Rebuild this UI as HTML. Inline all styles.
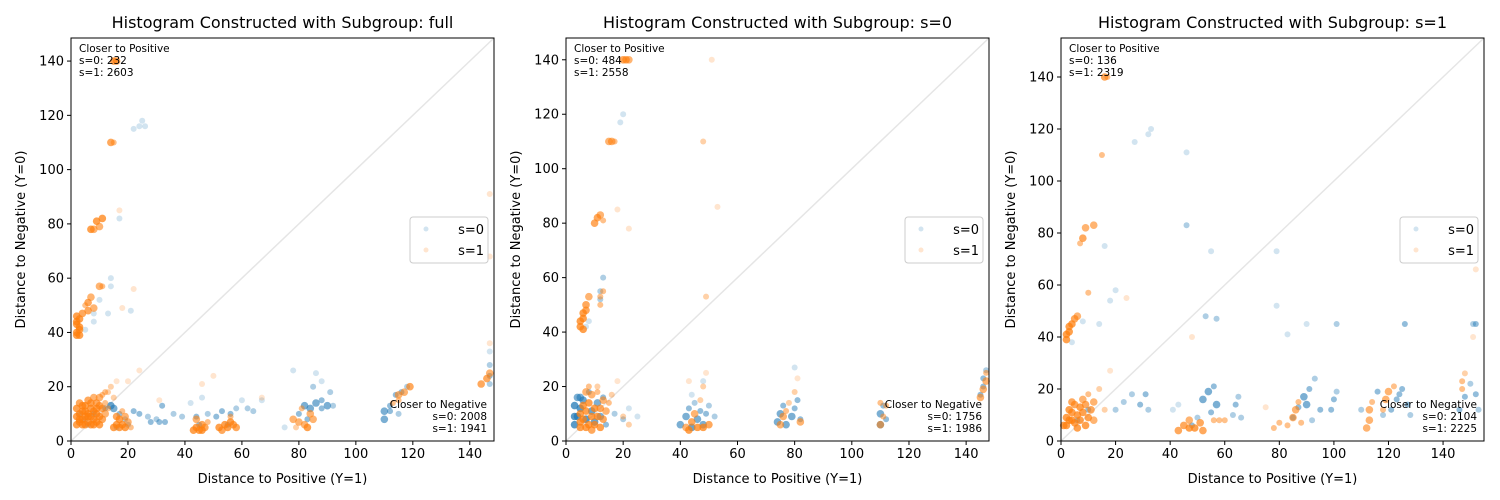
<!DOCTYPE html>
<html><head><meta charset="utf-8"><style>
body{margin:0;background:#fff;}
svg{display:block;font-family:"DejaVu Sans","Liberation Sans",sans-serif;}
</style></head><body>
<svg id="chart" width="1500" height="500" viewBox="0 0 1500 500" xmlns="http://www.w3.org/2000/svg"></svg>
<script>
const panelTitles = ["Histogram Constructed with Subgroup: full","Histogram Constructed with Subgroup: s=0","Histogram Constructed with Subgroup: s=1"];
const panelMax = [148.5, 148, 155];
const ticks = [0,20,40,60,80,100,120,140];
const posCounts = [["232","2603"],["484","2558"],["136","2319"]];
const negCounts = [["2008","1941"],["1756","1986"],["2104","2225"]];
// [x, y, weight(overlap count)]
const p1s0 = [[5,8,2],[8,10,3],[12,12,3],[14,13,5],[17,10,3],[19,8,2],[22,11,3],[24,10,3],[27,9,2],[30,8,2],[32,13,3],[33,7,3],[36,10,2],[39,9,2],[42,14,1],[44,9,3],[46,16,1],[48,10,2],[51,9,3],[53,11,3],[56,10,3],[58,12,2],[60,15,1],[62,12,2],[64,11,2],[67,15,1],[78,26,1],[80,10,3],[82,13,4],[84,12,4],[85,20,2],[86,25,1],[88,22,1],[90,13,4],[91,18,2],[83,8,3],[110,11,4],[110,8,4],[112,13,3],[114,17,3],[116,18,3],[118,20,2],[147,33,1],[147,28,2],[147,24,3],[147,21,2],[22,115,1],[24,116,1],[25,118,1],[26,116,1],[14,60,1],[14,57,1],[13,47,1],[10,52,1],[8,47,1],[8,44,1],[5,41,1],[17,82,1],[21,48,1],[3,10,2],[6,6,2],[16,5,2],[20,6,2],[45,6,3],[55,6,3],[75,5,1],[115,10,2],[15,12,4],[86,14,4],[88,12,3],[28,7,3],[31,7,3],[88,15,3],[92,13,2],[112,11,3]];
const p1s1 = [[2,6,6],[2,9,6],[2,12,6],[3,7,6],[3,10,6],[3,14,5],[4,6,6],[4,8,6],[4,11,6],[5,6,6],[5,9,6],[5,13,6],[6,7,6],[6,10,6],[6,15,5],[7,6,6],[7,9,6],[7,12,6],[8,6,6],[8,8,6],[8,11,6],[8,16,4],[9,7,6],[9,10,6],[9,14,5],[10,6,6],[10,9,6],[10,13,5],[11,8,5],[11,12,5],[11,17,3],[12,10,4],[12,14,3],[13,18,2],[14,20,2],[15,16,2],[16,22,1],[13,12,3],[15,5,6],[16,6,6],[17,5,6],[17,8,6],[18,6,6],[19,5,6],[19,9,4],[20,7,4],[21,5,3],[16,9,5],[18,11,3],[43,4,6],[44,5,6],[45,4,6],[46,6,5],[47,5,5],[48,7,3],[44,8,4],[46,4,6],[52,5,6],[53,4,5],[54,6,6],[55,5,6],[56,7,6],[57,6,5],[58,5,5],[56,9,3],[78,8,4],[80,7,4],[82,6,4],[83,5,6],[84,10,4],[85,8,4],[81,12,3],[79,5,2],[113,14,3],[115,17,4],[117,18,4],[119,20,5],[115,15,3],[144,21,5],[146,23,5],[147,25,4],[2,39,6],[3,41,6],[2,43,6],[3,45,6],[4,47,5],[2,46,6],[3,39,6],[6,48,5],[6,51,5],[7,53,4],[8,49,4],[10,57,4],[11,57,3],[7,78,6],[9,81,6],[11,82,6],[10,79,4],[8,78,4],[14,110,5],[15,110,3],[15,140,6],[16,140,5],[22,56,1],[18,49,1],[24,26,1],[20,22,1],[31,15,1],[50,24,1],[46,21,1],[67,16,1],[147,91,1],[147,68,1],[147,36,1],[17,85,1],[3,8,6],[5,11,6],[7,14,6],[9,12,6],[4,13,6],[6,9,6],[2,40,6],[2,44,6],[3,42,6],[10,16,4],[12,18,3],[5,50,3]];
const p2s0 = [[3,6,6],[4,9,6],[5,12,6],[6,15,5],[7,8,6],[8,18,3],[9,11,5],[10,7,5],[11,14,4],[12,9,4],[13,16,3],[14,6,3],[5,16,4],[3,13,6],[3,9,6],[4,16,4],[17,10,2],[20,8,2],[22,12,1],[25,9,1],[40,6,4],[42,9,4],[43,12,3],[44,5,5],[45,14,2],[46,8,4],[47,11,3],[48,6,4],[49,10,3],[50,13,2],[52,9,2],[74,7,4],[75,10,4],[76,13,3],[77,6,4],[79,9,4],[80,12,3],[81,15,3],[82,8,3],[80,27,1],[110,6,4],[110,10,4],[111,13,3],[112,8,3],[145,17,3],[146,20,3],[146,23,3],[147,26,2],[20,120,1],[19,117,1],[12,55,2],[13,60,2],[12,52,2],[7,42,1],[8,44,1],[44,17,1],[48,22,1]];
const p2s1 = [[5,5,6],[6,8,6],[7,11,6],[8,14,6],[9,17,4],[10,6,6],[11,9,6],[12,12,5],[13,15,4],[5,10,6],[6,13,6],[7,18,4],[8,6,6],[9,9,6],[10,12,6],[11,20,2],[12,5,6],[13,8,5],[14,11,4],[15,14,3],[16,17,2],[18,22,1],[20,9,2],[22,6,2],[6,41,6],[5,44,6],[6,47,6],[7,50,5],[8,53,4],[5,42,6],[6,45,6],[7,48,5],[12,50,3],[12,53,3],[13,55,3],[10,80,5],[11,82,5],[12,83,4],[13,81,3],[15,110,4],[16,110,4],[17,110,3],[20,140,5],[21,140,5],[22,140,4],[43,4,6],[44,7,5],[45,10,4],[46,5,6],[47,15,2],[48,20,2],[49,25,1],[50,6,5],[43,22,1],[75,6,4],[76,9,4],[78,14,2],[80,18,2],[81,23,1],[82,7,4],[77,11,3],[110,6,4],[111,9,3],[112,13,3],[110,14,3],[145,16,4],[146,19,4],[147,22,4],[147,25,3],[48,110,2],[49,53,2],[51,140,1],[53,86,1],[22,78,1],[18,85,1],[11,18,3],[8,20,3],[5,7,6],[7,5,6],[9,4,5],[48,5,6],[42,5,4]];
const p3s0 = [[20,12,2],[23,15,2],[26,18,2],[29,14,3],[31,18,3],[32,12,2],[41,12,1],[43,14,1],[52,16,4],[54,19,4],[56,21,3],[57,14,4],[55,11,3],[63,10,2],[64,14,3],[65,17,2],[66,9,2],[85,9,3],[87,13,3],[89,17,4],[91,20,3],[93,24,2],[95,12,3],[92,8,2],[99,12,3],[100,16,3],[101,19,2],[110,12,2],[121,12,3],[123,16,3],[125,20,3],[127,14,3],[128,10,2],[146,12,3],[148,17,3],[150,22,2],[152,18,3],[153,12,2],[152,45,3],[151,45,2],[126,45,3],[101,45,2],[90,45,1],[83,41,1],[79,52,1],[79,73,1],[55,73,1],[53,48,2],[57,47,2],[46,83,2],[46,111,1],[32,118,1],[33,120,1],[27,115,1],[20,58,1],[18,54,1],[16,75,1],[4,38,1],[8,46,1],[14,45,1],[6,8,3],[10,12,3],[48,6,3],[50,9,2],[116,19,3],[118,10,2],[90,14,4],[124,18,3]];
const p3s1 = [[1,6,6],[2,9,6],[3,12,6],[4,15,5],[5,7,6],[6,10,6],[7,13,6],[8,16,4],[9,6,6],[10,9,6],[11,12,5],[12,15,4],[2,6,6],[3,8,6],[4,11,6],[5,14,5],[6,5,6],[7,8,6],[8,11,6],[9,14,5],[10,18,3],[12,8,4],[14,20,2],[16,12,2],[18,27,1],[24,55,1],[2,39,6],[3,42,6],[4,45,6],[5,47,5],[3,44,6],[2,41,6],[6,48,4],[7,76,3],[8,78,5],[9,82,4],[12,83,4],[15,110,3],[16,140,5],[17,140,3],[10,57,3],[43,4,5],[45,6,5],[47,8,4],[49,5,6],[51,7,5],[52,4,5],[56,8,3],[58,8,3],[60,8,3],[78,5,3],[80,7,3],[83,6,3],[85,9,4],[86,12,4],[87,15,3],[88,7,3],[112,5,4],[113,8,4],[113,12,4],[114,15,3],[118,12,3],[119,16,4],[120,19,4],[122,21,3],[147,20,3],[147,23,3],[148,26,2],[152,66,1],[151,40,1],[48,40,1],[75,13,1],[47,5,6],[4,8,6]];
const panelS0 = [p1s0, p2s0, p3s0];
const panelS1 = [p1s1, p2s1, p3s1];

const NS = "http://www.w3.org/2000/svg";
const svg = document.getElementById("chart");
function mk(tag, attrs, parent){const e=document.createElementNS(NS,tag);for(const k in attrs)e.setAttribute(k,attrs[k]);(parent||svg).appendChild(e);return e;}
const lefts = [71,566,1061], W = 423, TOP = 38, BOT = 441;
for (let p=0;p<3;p++){
  const L = lefts[p], mx = panelMax[p];
  const xs = v => L + v/mx*W;
  const ys = v => BOT - v/mx*(BOT-TOP);
  const g = mk("g",{});
  
  
  const t = mk("text",{x:L+W/2,y:28,"text-anchor":"middle","font-size":"16"},g);
  t.textContent = panelTitles[p];
  
  
  const diag = mk("line",{x1:L,y1:BOT,x2:L+W,y2:TOP,stroke:"#000","stroke-opacity":"0.1","stroke-width":"1.5"},g);
  
  
  const series = [[panelS0[p],"#1f77b4"],[panelS1[p],"#ff7f0e"]];
  series.forEach((s,si)=>{
    const sg = mk("g",{fill:s[1]},g);
    
    
    s[0].forEach(pt=>{
      const w = pt[2]||1;
      const op = 1-Math.pow(0.8,w);
      const c = mk("circle",{cx:xs(pt[0]),cy:ys(pt[1]),r:w>3?3.8:3,"fill-opacity":op.toFixed(3)},sg);
      
      
    });
  });
  const frame = mk("rect",{x:L,y:TOP,width:W,height:BOT-TOP,fill:"none",stroke:"#000","stroke-width":"1"},g);
  
  
  ticks.forEach(tv=>{
    mk("line",{x1:xs(tv),y1:BOT,x2:xs(tv),y2:BOT+4,stroke:"#000"},g);
    const xl = mk("text",{x:xs(tv),y:BOT+17,"text-anchor":"middle","font-size":"13"},g);
    xl.textContent = tv;
    
    
    mk("line",{x1:L-4,y1:ys(tv),x2:L,y2:ys(tv),stroke:"#000"},g);
    const yl = mk("text",{x:L-7,y:ys(tv)+4.5,"text-anchor":"end","font-size":"13"},g);
    yl.textContent = tv;
    
    
  });
  const xt = mk("text",{x:L+W/2,y:483,"text-anchor":"middle","font-size":"13"},g);
  xt.textContent = "Distance to Positive (Y=1)";
  
  
  const yt = mk("text",{x:0,y:0,"text-anchor":"middle","font-size":"13",transform:`translate(${L-46},${(TOP+BOT)/2}) rotate(-90)`},g);
  yt.textContent = "Distance to Negative (Y=0)";
  
  
  const pa = mk("text",{x:L+8,y:52,"font-size":"10.5"},g);
  
  
  ["Closer to Positive","s=0: "+posCounts[p][0],"s=1: "+posCounts[p][1]].forEach((s,i)=>{const ts=mk("tspan",{x:L+8,dy:i?12:0},pa);ts.textContent=s;});
  const na = mk("text",{x:L+W-7,y:408,"font-size":"10.5","text-anchor":"end"},g);
  
  
  ["Closer to Negative","s=0: "+negCounts[p][0],"s=1: "+negCounts[p][1]].forEach((s,i)=>{const ts=mk("tspan",{x:L+W-7,dy:i?12:0},na);ts.textContent=s;});
  const lg = mk("g",{},g);
  
  
  mk("rect",{x:L+W-84,y:217,width:78,height:46,rx:3,fill:"#fff","fill-opacity":"0.8",stroke:"#ccc"},lg);
  [["s=0","#1f77b4"],["s=1","#ff7f0e"]].forEach((e,i)=>{
    const le = mk("g",{},lg);
    
    
    mk("circle",{cx:L+W-68,cy:229+i*21,r:2.5,fill:e[1],"fill-opacity":"0.2"},le);
    const lt = mk("text",{x:L+W-10,y:234+i*21,"text-anchor":"end","font-size":"13"},le);
    lt.textContent = e[0];
  });
}
</script>
</body></html>
